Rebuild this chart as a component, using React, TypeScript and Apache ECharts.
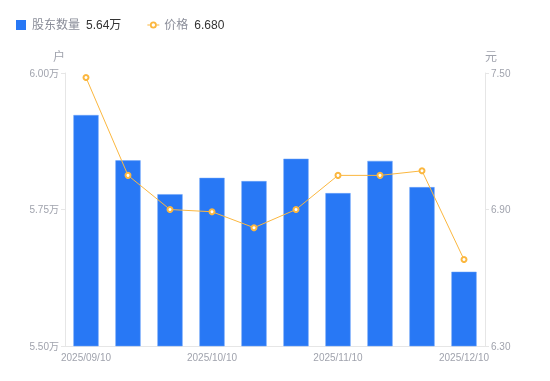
import React, { useEffect, useRef } from "react";
import * as echarts from "echarts";

const categories = [
  "2025/09/10", "2025/09/20", "2025/09/30", "2025/10/10", "2025/10/20",
  "2025/10/31", "2025/11/10", "2025/11/20", "2025/11/30", "2025/12/10",
];
const holders = [5.923, 5.840, 5.778, 5.808, 5.802, 5.843, 5.780, 5.839, 5.791, 5.636];
const prices = [7.48, 7.05, 6.9, 6.89, 6.82, 6.9, 7.05, 7.05, 7.07, 6.68];
const leftTicks = { min: 5.5, max: 6.0, interval: 0.25 };
const rightTicks = { min: 6.3, max: 7.5, interval: 0.6 };
const legendValues: Record<string, string> = { "股东数量": "5.64万", "价格": "6.680" };

const FONT = '"Liberation Sans", "Noto Sans CJK SC", sans-serif';
const SQUARE_ICON = "path://M1,0h10v10h-10z";
const LINE_ICON =
  "path://M0,4.4h2.6v1.2h-2.6z M9.4,4.4h2.6v1.2h-2.6z M2.5,5a3.5,3.5 0 1,0 7,0a3.5,3.5 0 1,0 -7,0z M4.3,5a1.7,1.7 0 1,1 3.4,0a1.7,1.7 0 1,1 -3.4,0z";

export default function App() {
  const ref = useRef<HTMLDivElement>(null);
  useEffect(() => {
    if (!ref.current) return;
    const chart = echarts.init(ref.current, undefined, { renderer: "svg" });
    chart.setOption({
      animation: false,
      textStyle: { fontFamily: FONT },
      legend: {
        left: 11,
        top: 14,
        itemWidth: 12,
        itemHeight: 10,
        itemGap: 26,
        data: [
          { name: "股东数量", icon: SQUARE_ICON, itemStyle: { borderWidth: 0, color: "#2878f5" } },
          { name: "价格", icon: LINE_ICON, itemStyle: { borderWidth: 0, color: "#fbb73f" } },
        ],
        formatter: (name: string) => `{n|${name}}{v|${legendValues[name]}}`,
        textStyle: {
          rich: {
            n: { color: "#8a8d99", fontSize: 12, fontFamily: FONT, padding: [0, 6, 0, 0] },
            v: { color: "#333333", fontSize: 12, fontFamily: FONT },
          },
        },
      },
      grid: { left: 65, right: 65, top: 73, bottom: 35 },
      xAxis: {
        type: "category",
        data: categories,
        axisLine: { lineStyle: { color: "#e6e6e6" } },
        axisTick: { show: false },
        axisLabel: {
          color: "#a0a3ad",
          fontSize: 10,
          interval: 2,
          margin: 6,
        },
      },
      yAxis: [
        {
          type: "value",
          name: "户",
          nameTextStyle: { color: "#a0a3ad", fontSize: 12, padding: [0, 0, 0, -12] },
          nameGap: 10,
          min: leftTicks.min,
          max: leftTicks.max,
          interval: leftTicks.interval,
          axisLine: { show: true, lineStyle: { color: "#e6e6e6" } },
          axisTick: { show: true, length: 4, lineStyle: { color: "#e6e6e6" } },
          splitLine: { show: false },
          axisLabel: {
            color: "#a0a3ad",
            fontSize: 10,
            margin: 6,
            formatter: (v: number) => v.toFixed(2) + "万",
          },
        },
        {
          type: "value",
          name: "元",
          nameTextStyle: { color: "#a0a3ad", fontSize: 12, align: "left" },
          nameGap: 10,
          min: rightTicks.min,
          max: rightTicks.max,
          interval: rightTicks.interval,
          position: "right",
          axisLine: { show: true, lineStyle: { color: "#e6e6e6" } },
          axisTick: { show: true, length: 4, lineStyle: { color: "#e6e6e6" } },
          splitLine: { show: false },
          axisLabel: {
            color: "#a0a3ad",
            fontSize: 10,
            margin: 6,
            formatter: (v: number) => v.toFixed(2),
          },
        },
      ],
      series: [
        {
          name: "股东数量",
          type: "bar",
          yAxisIndex: 0,
          data: holders,
          barWidth: "60%",
          itemStyle: { color: "#2878f5", borderColor: "#6aa3f8", borderWidth: 0.5 },
        },
        {
          name: "价格",
          type: "line",
          yAxisIndex: 1,
          data: prices,
          symbol: "emptyCircle",
          symbolSize: 5,
          lineStyle: { color: "#fbb73f", width: 1 },
          itemStyle: { color: "#fbb73f", borderWidth: 2, borderColor: "#fbb73f" },
        },
      ],
    });
    return () => chart.dispose();
  }, []);
  return (
    <div
      ref={ref}
      style={{ position: "fixed", left: 0, top: 0, width: 550, height: 381 }}
    />
  );
}
